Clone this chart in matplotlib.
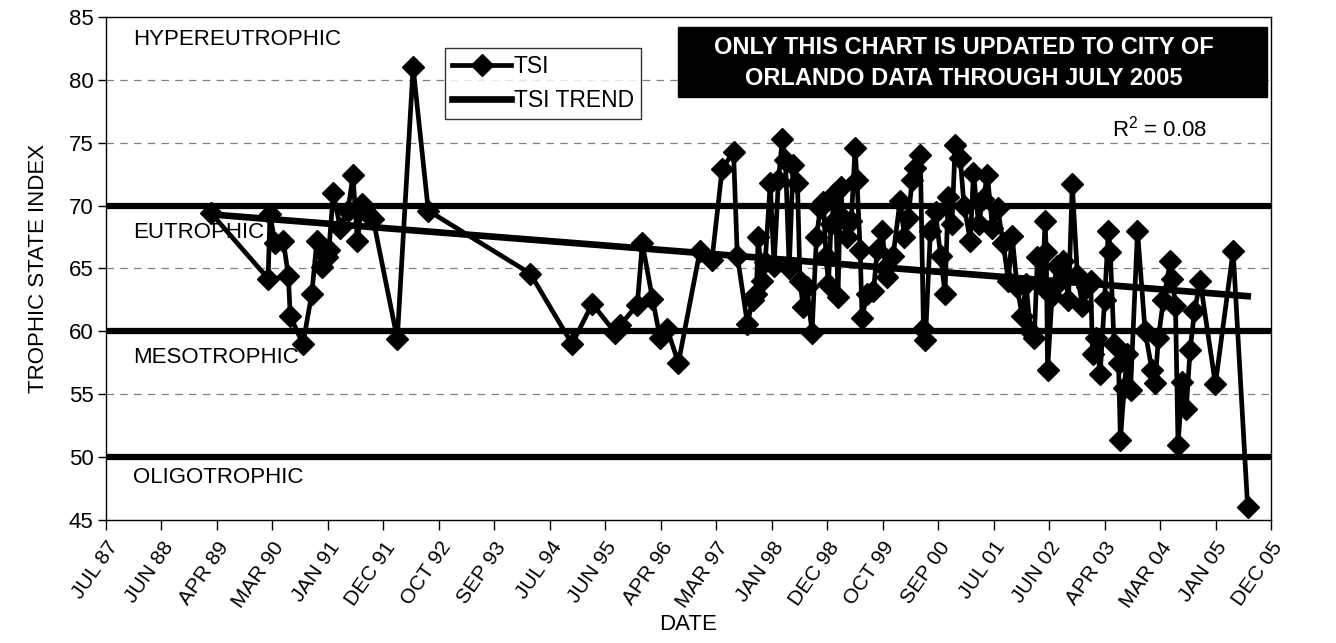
import matplotlib
matplotlib.use('Agg')
import matplotlib.pyplot as plt
from matplotlib.patches import Rectangle
import numpy as np

plt.rcParams['font.family'] = ['Liberation Sans', 'DejaVu Sans']
plt.rcParams['mathtext.default'] = 'regular'

# ---- data (decimal year, TSI) ----
dates = [1989.16, 1990.06, 1990.09, 1990.17, 1990.30, 1990.38, 1990.41, 1990.61, 1990.75, 1990.83,
         1990.91, 1990.99, 1991.02, 1991.09, 1991.20, 1991.32, 1991.40, 1991.47, 1991.54, 1991.64,
         1991.72, 1992.10, 1992.35, 1992.59, 1994.20, 1994.86, 1995.18, 1995.54, 1995.62, 1995.89,
         1995.97, 1996.13, 1996.25, 1996.36, 1996.54, 1996.88, 1997.07, 1997.23, 1997.41, 1997.47,
         1997.63, 1997.71, 1997.77, 1997.80, 1997.86, 1997.91, 1997.99, 1998.05, 1998.12, 1998.18,
         1998.23, 1998.29, 1998.35, 1998.42, 1998.46, 1998.51, 1998.57, 1998.65, 1998.72, 1998.78,
         1998.83, 1998.87, 1998.91, 1998.95, 1999.02, 1999.06, 1999.10, 1999.14, 1999.21, 1999.27,
         1999.33, 1999.36, 1999.41, 1999.44, 1999.52, 1999.62, 1999.68, 1999.76, 1999.81, 1999.84,
         1999.93, 2000.04, 2000.11, 2000.17, 2000.23, 2000.28, 2000.36, 2000.41, 2000.44, 2000.52,
         2000.60, 2000.68, 2000.75, 2000.80, 2000.86, 2000.91, 2000.99, 2001.05, 2001.15, 2001.20,
         2001.28, 2001.35, 2001.42, 2001.50, 2001.58, 2001.67, 2001.75, 2001.81, 2001.89, 2001.97,
         2002.03, 2002.10, 2002.16, 2002.21, 2002.29, 2002.33, 2002.35, 2002.37, 2002.44, 2002.52,
         2002.57, 2002.62, 2002.70, 2002.76, 2002.84, 2002.92, 2003.00, 2003.05, 2003.08, 2003.14,
         2003.20, 2003.27, 2003.33, 2003.36, 2003.42, 2003.49, 2003.52, 2003.58, 2003.63, 2003.68,
         2003.79, 2003.91, 2004.02, 2004.07, 2004.12, 2004.20, 2004.31, 2004.34, 2004.39, 2004.43,
         2004.50, 2004.56, 2004.62, 2004.69, 2004.78, 2005.02, 2005.30, 2005.53]
tsi = [69.4, 64.2, 69.3, 67.0, 67.2, 64.4, 61.2, 59.0, 63.0, 67.2,
       65.1, 65.9, 66.5, 71.0, 68.2, 69.6, 72.4, 67.2, 70.1, 69.3,
       68.9, 59.4, 81.0, 69.6, 64.6, 59.0, 62.2, 59.9, 60.5, 62.1,
       67.0, 62.6, 59.5, 60.2, 57.5, 66.4, 65.7, 72.9, 74.3, 66.0,
       60.6, 62.5, 63.0, 67.5, 64.0, 65.5, 71.8, 65.2, 72.0, 75.3,
       73.6, 65.0, 73.2, 71.8, 64.0, 61.9, 63.5, 59.9, 67.5, 69.8,
       70.3, 66.0, 63.8, 68.5, 71.0, 62.7, 71.5, 69.0, 67.5, 68.8,
       74.6, 72.0, 66.5, 61.1, 63.0, 63.2, 66.5, 68.0, 65.0, 64.3,
       66.0, 70.4, 67.5, 69.0, 72.0, 73.0, 74.0, 60.2, 59.3, 68.0,
       69.5, 66.0, 63.0, 70.7, 68.5, 74.8, 73.8, 70.0, 67.2, 72.6,
       68.5, 70.5, 72.4, 68.2, 69.8, 67.0, 64.0, 67.6, 63.5, 61.2,
       63.8, 60.0, 59.5, 65.9, 63.5, 68.8, 66.3, 56.9, 62.8, 65.2,
       64.0, 65.6, 62.5, 71.7, 64.5, 62.0, 63.5, 64.0, 58.2, 59.5,
       56.6, 62.5, 68.0, 66.3, 59.0, 57.5, 51.4, 55.5, 58.2, 55.3,
       68.0, 60.0, 56.9, 55.9, 59.5, 62.5, 65.6, 64.2, 62.0, 51.0,
       56.0, 53.8, 58.5, 61.6, 64.0, 55.8, 66.4, 46.0]
trend_x = [1989.16, 2005.53]
trend_y = [69.3, 62.8]

zone_bounds = [70, 60, 50]
zone_names = ['HYPEREUTROPHIC', 'EUTROPHIC', 'MESOTROPHIC', 'OLIGOTROPHIC']
zone_label_y = [83.2, 67.9, 57.9, 48.4]
grid_levels = [55, 65, 75, 80]

tick_labels = ['JUL 87', 'JUN 88', 'APR 89', 'MAR 90', 'JAN 91', 'DEC 91', 'OCT 92', 'SEP 93',
               'JUL 94', 'JUN 95', 'APR 96', 'MAR 97', 'JAN 98', 'DEC 98', 'OCT 99', 'SEP 00',
               'JUL 01', 'JUN 02', 'APR 03', 'MAR 04', 'JAN 05', 'DEC 05']
tick_start = 1987.5
tick_step = 320 / 365.25

note_text = 'ONLY THIS CHART IS UPDATED TO CITY OF\nORLANDO DATA THROUGH JULY 2005'
r2_text = 'R$^2$ = 0.08'

# ---- figure ----
fig = plt.figure(figsize=(13.36, 6.43), dpi=100, facecolor='white')
ax = fig.add_axes([106/1336, 1-520/643, 1165/1336, 503/643])

ticks = tick_start + np.arange(len(tick_labels)) * tick_step
ax.set_xlim(ticks[0], ticks[-1])
ax.set_ylim(45, 85)

for g in grid_levels:
    ax.axhline(g, color='#808080', lw=0.9, ls=(0, (6, 5)), zorder=1)
for b in zone_bounds:
    ax.axhline(b, color='black', lw=4.5, zorder=2)

tsi_line, = ax.plot(dates, tsi, color='black', lw=3.4, marker='D', markersize=11,
                    markerfacecolor='black', markeredgecolor='black', zorder=4, label='TSI')
trend_line, = ax.plot(trend_x, trend_y, color='black', lw=4.8, zorder=3, label='TSI TREND')

for name, yv in zip(zone_names, zone_label_y):
    ax.text(1987.93, yv, name, fontsize=16, va='center', ha='left', zorder=5)

ax.text(2003.39, 76.1, r2_text, fontsize=16, va='center', ha='left', zorder=5)

# black note box
ax.add_patch(Rectangle((0.491, 0.841), 0.5056, 0.139, transform=ax.transAxes,
                       facecolor='black', edgecolor='black', zorder=6, clip_on=False))
ax.text(0.736, 0.909, note_text, transform=ax.transAxes, fontsize=17, fontweight='bold',
        color='white', ha='center', va='center', linespacing=1.45, zorder=7)

ax.set_yticks(np.arange(45, 86, 5))
ax.set_xticks(ticks)
ax.set_xticklabels(tick_labels, rotation=55, ha='right', va='top', rotation_mode='anchor',
                   fontsize=15)
ax.tick_params(axis='y', labelsize=16, direction='out', length=6, width=1, pad=3)
ax.tick_params(axis='x', direction='out', length=7, width=1, pad=6)

for s in ax.spines.values():
    s.set_color('black')
    s.set_linewidth(1.0)

ax.set_ylabel('TROPHIC STATE INDEX', fontsize=16, labelpad=14)
ax.set_xlabel('DATE', fontsize=16, labelpad=2)

leg = ax.legend(handles=[tsi_line, trend_line], loc='upper left',
                bbox_to_anchor=(445/1336, 1-48/643), bbox_transform=fig.transFigure,
                fontsize=16.5, frameon=True, fancybox=False, edgecolor='black',
                borderpad=0.3, handlelength=2.6, handletextpad=0.1, labelspacing=0.5,
                borderaxespad=0)
leg.get_frame().set_linewidth(1.0)
leg.set_zorder(8)

fig.savefig('out.png', dpi=100, facecolor='white')
